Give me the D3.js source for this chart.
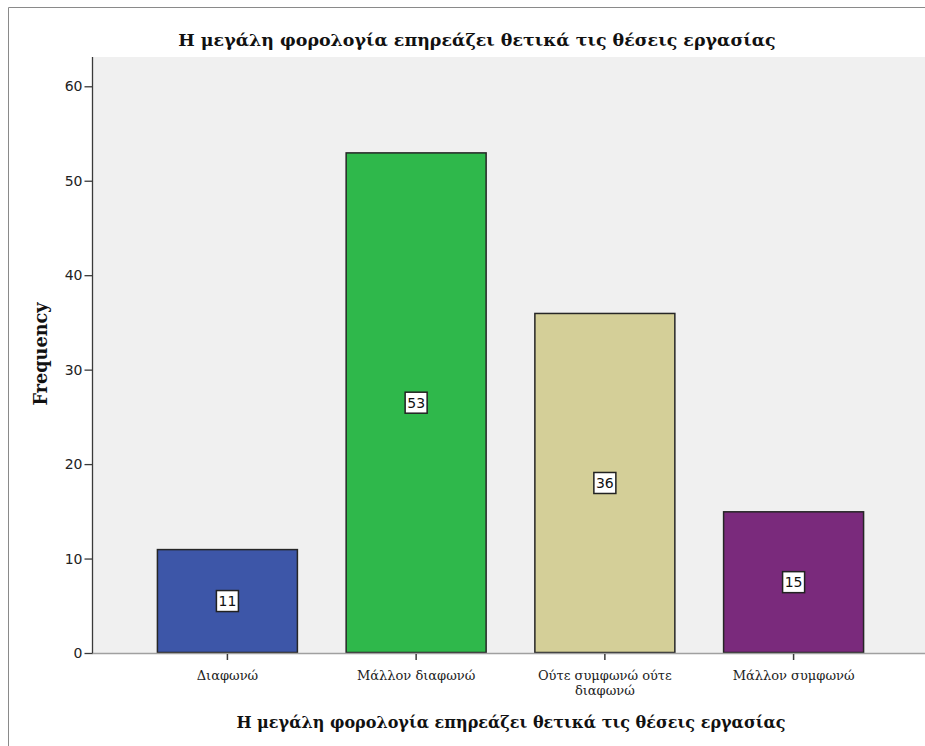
<!DOCTYPE html>
<html>
<head>
<meta charset="utf-8">
<script src="https://cdn.jsdelivr.net/npm/d3@7"></script>
<style>
  html, body { margin: 0; padding: 0; background: #ffffff; }
  svg { display: block; }
</style>
</head>
<body>
<svg id="chart" width="925" height="746"></svg>
<script>
const chartTitle = "Η μεγάλη φορολογία επηρεάζει θετικά τις θέσεις εργασίας";
const xAxisTitle = "Η μεγάλη φορολογία επηρεάζει θετικά τις θέσεις εργασίας";
const yAxisTitle = "Frequency";
const categories = ["Διαφωνώ", "Μάλλον διαφωνώ", "Ούτε συμφωνώ ούτε διαφωνώ", "Μάλλον συμφωνώ"];
const categoryLines = [["Διαφωνώ"], ["Μάλλον διαφωνώ"], ["Ούτε συμφωνώ ούτε", "διαφωνώ"], ["Μάλλον συμφωνώ"]];
const frequencies = [11, 53, 36, 15];
const barColors = ["#3d56a8", "#2fb84b", "#d4cf98", "#7a2a7c"];
const yTicks = [0, 10, 20, 30, 40, 50, 60];
const yMax = 63.1;

const svg = d3.select("#chart");

// frame
svg.append("path")
  .attr("d", "M8.5,746 L8.5,7.5 L925,7.5")
  .attr("fill", "none").attr("stroke", "#8a8a8a").attr("stroke-width", 1);

const plot = { left: 92, right: 929, top: 57, bottom: 653 };

const x = d3.scaleBand()
  .domain(categories)
  .range([plot.left, plot.right])
  .paddingInner(0.253)
  .paddingOuter(0.344);

const y = d3.scaleLinear()
  .domain([0, yMax])
  .range([plot.bottom, plot.top]);

// plot background
svg.append("rect")
  .attr("x", plot.left).attr("y", plot.top)
  .attr("width", 925 - plot.left).attr("height", plot.bottom - plot.top)
  .attr("fill", "#f0f0f0");

// bars
svg.append("g").selectAll("rect")
  .data(categories)
  .join("rect")
  .attr("x", d => x(d) + 0.5)
  .attr("y", (d, i) => y(frequencies[i]) + 0.5)
  .attr("width", x.bandwidth() - 1)
  .attr("height", (d, i) => y(0) - y(frequencies[i]) - 1)
  .attr("fill", (d, i) => barColors[i])
  .attr("stroke", "#262626")
  .attr("stroke-width", 1.5);

// x baseline (gray)
svg.append("line")
  .attr("x1", plot.left).attr("x2", 925)
  .attr("y1", plot.bottom + 0.5).attr("y2", plot.bottom + 0.5)
  .attr("stroke", "#a0a0a0").attr("stroke-width", 1.5);

// y axis
const yAxis = d3.axisLeft(y).tickValues(yTicks).tickSize(8).tickPadding(2).tickFormat(d3.format("d"));
const gy = svg.append("g")
  .attr("transform", `translate(${plot.left + 0.5},0)`)
  .call(yAxis);
gy.select(".domain").attr("d", `M0,${plot.bottom}V${plot.top}`).attr("stroke", "#3a3a3a").attr("stroke-width", 1.3);
gy.selectAll(".tick line").attr("stroke", "#3a3a3a").attr("stroke-width", 1.3);
gy.selectAll(".tick text")
  .attr("font-family", "'DejaVu Sans', sans-serif")
  .attr("font-size", 14)
  .attr("fill", "#222");

// x axis ticks and labels
const xAxis = d3.axisBottom(x).tickSize(6).tickFormat("");
const gx = svg.append("g")
  .attr("transform", `translate(0,${plot.bottom + 1})`)
  .call(xAxis);
gx.select(".domain").remove();
gx.selectAll(".tick line").attr("stroke", "#3a3a3a").attr("stroke-width", 1.5);
gx.selectAll(".tick").each(function (d, i) {
  const g = d3.select(this);
  categoryLines[i].forEach((line, k) => {
    g.append("text")
      .attr("text-anchor", "middle")
      .attr("font-family", "'DejaVu Serif', serif")
      .attr("font-size", 13)
      .attr("fill", "#222")
      .attr("x", 0).attr("y", 26 + k * 15)
      .text(line);
  });
});

// value labels
const labels = svg.append("g").selectAll("g")
  .data(categories)
  .join("g")
  .attr("transform", (d, i) => `translate(${x(d) + x.bandwidth() / 2},${y(frequencies[i] / 2)})`);
labels.append("rect")
  .attr("x", -11).attr("y", -10.5).attr("width", 22).attr("height", 21)
  .attr("fill", "#ffffff").attr("stroke", "#222").attr("stroke-width", 1.5);
labels.append("text")
  .attr("text-anchor", "middle").attr("dy", "0.36em")
  .attr("font-family", "'DejaVu Sans', sans-serif")
  .attr("font-size", 14)
  .attr("fill", "#111")
  .text((d, i) => frequencies[i]);

function fitText(sel, targetWidth, baseSize) {
  sel.attr("font-size", baseSize);
  const w = sel.node().getComputedTextLength();
  if (w > 0) sel.attr("font-size", baseSize * targetWidth / w);
}

// chart title
const t1 = svg.append("text")
  .attr("x", 477).attr("y", 46)
  .attr("text-anchor", "middle")
  .attr("font-family", "'DejaVu Serif', serif")
  .attr("font-weight", "bold")
  .attr("fill", "#111")
  .text(chartTitle);
fitText(t1, 598, 18);

// x axis title
const t2 = svg.append("text")
  .attr("x", 511).attr("y", 728)
  .attr("text-anchor", "middle")
  .attr("font-family", "'DejaVu Serif', serif")
  .attr("font-weight", "bold")
  .attr("fill", "#111")
  .text(xAxisTitle);
fitText(t2, 550, 17);

// y axis title
const t3 = svg.append("text")
  .attr("transform", "translate(47,354) rotate(-90)")
  .attr("text-anchor", "middle")
  .attr("font-family", "'DejaVu Serif', serif")
  .attr("font-weight", "bold")
  .attr("fill", "#111")
  .text(yAxisTitle);
fitText(t3, 103, 16);
</script>
</body>
</html>
